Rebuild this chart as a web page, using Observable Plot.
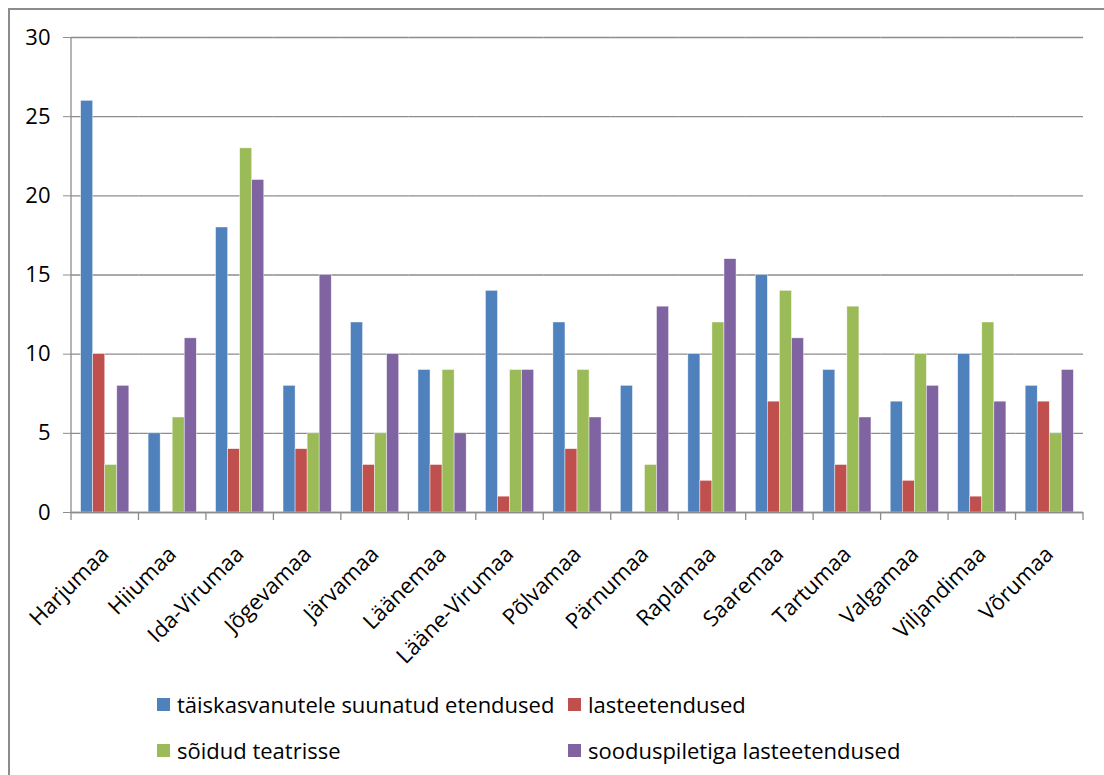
<!DOCTYPE html>
<html>
<head>
<meta charset="utf-8">
<script src="https://cdn.jsdelivr.net/npm/d3@7"></script>
<script src="https://cdn.jsdelivr.net/npm/@observablehq/plot@0.6"></script>
<style>
  html, body { margin: 0; padding: 0; background: #fff; }
  #wrap { position: relative; width: 1104px; height: 775px; overflow: hidden; font-family: "Open Sans", sans-serif; }
  #frameTop { position: absolute; left: 8px; top: 8px; width: 1100px; height: 0; border-top: 2px solid #8c8c8c; }
  #frameLeft { position: absolute; left: 8px; top: 8px; width: 0; height: 780px; border-left: 2px solid #8c8c8c; }
  #chart { position: absolute; left: 0; top: 0; }
  .leg { position: absolute; display: flex; align-items: center; font-size: 22px; color: #000; white-space: nowrap; }
  .sw { width: 13px; height: 13px; margin-right: 7px; }
</style>
</head>
<body>
<div id="wrap">
  <div id="chart"></div>
  <div id="frameTop"></div>
  <div id="frameLeft"></div>
  <div id="legend"></div>
</div>
<script>
const regions = ["Harjumaa","Hiiumaa","Ida-Virumaa","Jõgevamaa","Järvamaa","Läänemaa","Lääne-Virumaa","Põlvamaa","Pärnumaa","Raplamaa","Saaremaa","Tartumaa","Valgamaa","Viljandimaa","Võrumaa"];
const seriesNames = ["täiskasvanutele suunatud etendused","lasteetendused","sõidud teatrisse","sooduspiletiga lasteetendused"];
const seriesColors = ["#4F81BD","#C0504D","#9BBB59","#8064A2"];
const adults   = [26, 5, 18, 8, 12, 9, 14, 12, 8, 10, 15, 9, 7, 10, 8];
const children = [10, 0, 4, 4, 3, 3, 1, 4, 0, 2, 7, 3, 2, 1, 7];
const trips    = [3, 6, 23, 5, 5, 9, 9, 9, 3, 12, 14, 13, 10, 12, 5];
const discount = [8, 11, 21, 15, 10, 5, 9, 6, 13, 16, 11, 6, 8, 7, 9];
const yTicks = [0, 5, 10, 15, 20, 25, 30];

const valueArrays = [adults, children, trips, discount];
const data = [];
regions.forEach((r, i) => {
  seriesNames.forEach((s, j) => data.push({region: r, series: s, value: valueArrays[j][i]}));
});

const W = 1104, H = 680;
const chart = Plot.plot({
  width: W,
  height: H,
  marginLeft: 71,
  marginRight: 21,
  marginTop: 37,
  marginBottom: H - 512,
  style: {fontFamily: "'Open Sans', sans-serif", fontSize: "22px", color: "#000", background: "transparent"},
  fx: {domain: regions, padding: 0, round: false, label: null},
  x: {domain: seriesNames, paddingInner: 0, paddingOuter: 0.8, round: false, axis: null},
  y: {domain: [0, 30], ticks: yTicks, label: null},
  color: {domain: seriesNames, range: seriesColors},
  marks: [
    Plot.gridY(yTicks, {stroke: "#8c8c8c", strokeOpacity: 1, strokeWidth: 1.3}),
    Plot.barY(data, {fx: "region", x: "series", y: "value", fill: "series", stroke: "#ffffff", strokeWidth: 0.6, strokeOpacity: 0.7}),
    Plot.ruleY([0], {stroke: "#8c8c8c", strokeWidth: 1.3}),
    Plot.axisY(yTicks, {anchor: "left", tickSize: 8, tickPadding: 13, stroke: "#8c8c8c", fontSize: 22, label: null}),
    Plot.axisFx({anchor: "bottom", tickRotate: -45, tickSize: 0, tickPadding: 38, fontSize: 22, label: null})
  ]
});
document.getElementById("chart").appendChild(chart);

// Excel-style boundary ticks and vertical axis line, placed via the library's scales
const fx = chart.scale("fx");
const y = chart.scale("y");
const svg = d3.select(chart);
const y0 = y.apply(0), yTop = y.apply(30);
const bounds = regions.map(r => fx.apply(r));
bounds.push(fx.apply(regions[regions.length - 1]) + fx.bandwidth);
const g = svg.append("g").attr("stroke", "#8c8c8c").attr("stroke-width", 1.3);
bounds.forEach(b => g.append("line").attr("x1", b).attr("x2", b).attr("y1", y0).attr("y2", y0 + 8));
g.append("line").attr("x1", bounds[0]).attr("x2", bounds[0]).attr("y1", yTop).attr("y2", y0);

// legend
const legendPos = [[157, 705], [568, 705], [157, 751], [568, 751]];
const leg = document.getElementById("legend");
seriesNames.forEach((s, i) => {
  const d = document.createElement("div");
  d.className = "leg";
  d.style.left = legendPos[i][0] + "px";
  d.style.top = (legendPos[i][1] - 16) + "px";
  d.innerHTML = `<span class="sw" style="background:${seriesColors[i]}"></span><span>${s}</span>`;
  leg.appendChild(d);
});
</script>
</body>
</html>
